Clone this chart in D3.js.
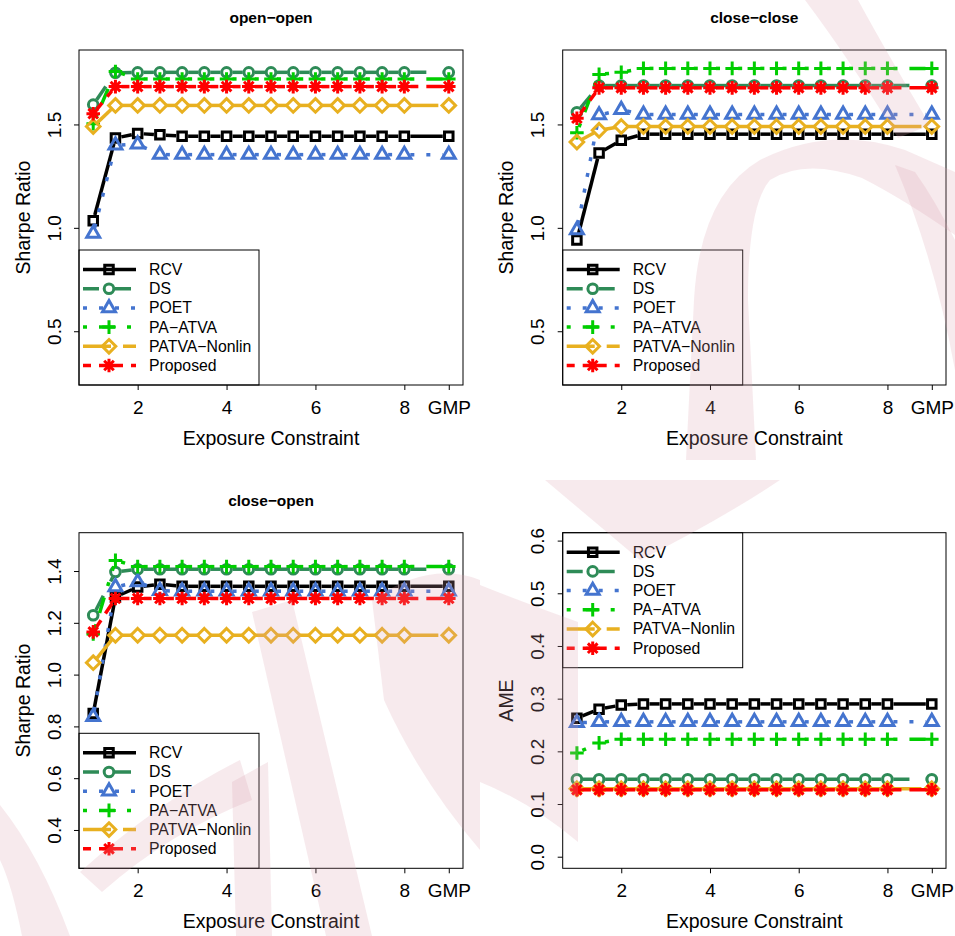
<!DOCTYPE html>
<html>
<head>
<meta charset="utf-8">
<script src="https://cdn.jsdelivr.net/npm/d3@7"></script>
<style>
body { margin: 0; background: #fff; }
svg text { font-family: "Liberation Sans", Arial, Helvetica, sans-serif; fill: #000; }
</style>
</head>
<body>
<svg id="chart" width="955" height="936"></svg>
<script>
"use strict";

// exposure constraint grid, GMP sits at 9 on the axis
const exposure = [1, 1.5, 2, 2.5, 3, 3.5, 4, 4.5, 5, 5.5, 6, 6.5, 7, 7.5, 8, 9];
const xTicks = [2, 4, 6, 8, 9];
const xTickLabels = ["2", "4", "6", "8", "GMP"];
const methods = ["RCV", "DS", "POET", "PA\u2212ATVA", "PATVA\u2212Nonlin", "Proposed"];

// open-open (Sharpe ratio)
const ooRCV   = [1.034, 1.434, 1.456, 1.450, 1.443, 1.443, 1.443, 1.443, 1.443, 1.443, 1.443, 1.443, 1.443, 1.443, 1.443, 1.443];
const ooDS    = [1.596, 1.750, 1.752, 1.752, 1.752, 1.752, 1.752, 1.752, 1.752, 1.752, 1.752, 1.752, 1.752, 1.752, 1.752, 1.752];
const ooPOET  = [0.973, 1.399, 1.404, 1.354, 1.354, 1.354, 1.354, 1.354, 1.354, 1.354, 1.354, 1.354, 1.354, 1.354, 1.354, 1.354];
const ooPA    = [1.503, 1.756, 1.720, 1.720, 1.720, 1.720, 1.720, 1.720, 1.720, 1.720, 1.720, 1.720, 1.720, 1.720, 1.720, 1.720];
const ooPATVA = [1.490, 1.592, 1.592, 1.592, 1.592, 1.592, 1.592, 1.592, 1.592, 1.592, 1.592, 1.592, 1.592, 1.592, 1.592, 1.592];
const ooProp  = [1.552, 1.683, 1.683, 1.683, 1.683, 1.683, 1.683, 1.683, 1.683, 1.683, 1.683, 1.683, 1.683, 1.683, 1.683, 1.683];

// close-close (Sharpe ratio)
const ccRCV   = [0.941, 1.362, 1.423, 1.453, 1.453, 1.453, 1.453, 1.453, 1.453, 1.453, 1.453, 1.453, 1.453, 1.453, 1.453, 1.453];
const ccDS    = [1.559, 1.688, 1.688, 1.688, 1.688, 1.688, 1.688, 1.688, 1.688, 1.688, 1.688, 1.688, 1.688, 1.688, 1.688, 1.688];
const ccPOET  = [0.990, 1.545, 1.571, 1.548, 1.548, 1.548, 1.548, 1.548, 1.548, 1.548, 1.548, 1.548, 1.548, 1.548, 1.548, 1.548];
const ccPA    = [1.460, 1.742, 1.752, 1.771, 1.771, 1.771, 1.771, 1.771, 1.771, 1.771, 1.771, 1.771, 1.771, 1.771, 1.771, 1.771];
const ccPATVA = [1.415, 1.472, 1.490, 1.490, 1.490, 1.490, 1.490, 1.490, 1.490, 1.490, 1.490, 1.490, 1.490, 1.490, 1.490, 1.490];
const ccProp  = [1.530, 1.677, 1.677, 1.677, 1.677, 1.677, 1.677, 1.677, 1.677, 1.677, 1.677, 1.677, 1.677, 1.677, 1.677, 1.677];

// close-open (Sharpe ratio)
const coRCV   = [0.850, 1.300, 1.338, 1.349, 1.341, 1.341, 1.341, 1.341, 1.341, 1.341, 1.341, 1.341, 1.341, 1.341, 1.341, 1.341];
const coDS    = [1.229, 1.396, 1.407, 1.407, 1.407, 1.407, 1.407, 1.407, 1.407, 1.407, 1.407, 1.407, 1.407, 1.407, 1.407, 1.407];
const coPOET  = [0.837, 1.338, 1.358, 1.324, 1.322, 1.322, 1.322, 1.322, 1.322, 1.322, 1.322, 1.322, 1.322, 1.322, 1.322, 1.322];
const coPA    = [1.157, 1.441, 1.417, 1.417, 1.417, 1.417, 1.417, 1.417, 1.417, 1.417, 1.417, 1.417, 1.417, 1.417, 1.417, 1.417];
const coPATVA = [1.046, 1.152, 1.152, 1.152, 1.152, 1.152, 1.152, 1.152, 1.152, 1.152, 1.152, 1.152, 1.152, 1.152, 1.152, 1.152];
const coProp  = [1.165, 1.294, 1.294, 1.294, 1.294, 1.294, 1.294, 1.294, 1.294, 1.294, 1.294, 1.294, 1.294, 1.294, 1.294, 1.294];

// AME
const amRCV   = [0.263, 0.280, 0.288, 0.290, 0.290, 0.290, 0.290, 0.290, 0.290, 0.290, 0.290, 0.290, 0.290, 0.290, 0.290, 0.290];
const amDS    = [0.147, 0.147, 0.147, 0.147, 0.147, 0.147, 0.147, 0.147, 0.147, 0.147, 0.147, 0.147, 0.147, 0.147, 0.147, 0.147];
const amPOET  = [0.254, 0.256, 0.256, 0.256, 0.256, 0.256, 0.256, 0.256, 0.256, 0.256, 0.256, 0.256, 0.256, 0.256, 0.256, 0.256];
const amPA    = [0.197, 0.216, 0.223, 0.223, 0.223, 0.223, 0.223, 0.223, 0.223, 0.223, 0.223, 0.223, 0.223, 0.223, 0.223, 0.223];
const amPATVA = [0.129, 0.129, 0.129, 0.129, 0.129, 0.129, 0.129, 0.129, 0.129, 0.129, 0.129, 0.129, 0.129, 0.129, 0.129, 0.129];
const amProp  = [0.127, 0.127, 0.127, 0.127, 0.127, 0.127, 0.127, 0.127, 0.127, 0.127, 0.127, 0.127, 0.127, 0.127, 0.127, 0.127];

const srTicks1 = [0.5, 1.0, 1.5];
const srTicks3 = [0.4, 0.6, 0.8, 1.0, 1.2, 1.4];
const ameTicks = [0.0, 0.1, 0.2, 0.3, 0.4, 0.5, 0.6];

// R style per method: colour, lty dash (in px), pch
const colors = ["#000000", "#2E8B57", "#4474CF", "#00CD00", "#E8B020", "#FF0000"];
const dashes = [null, "16,16", "4,12", "4,12,16,12", "28,12", "8,8,24,8"];
const shapes = ["square", "circle", "triangle", "plus", "diamond", "asterisk"];

// faint logo watermark sitting over the page (rough outline only)
const watermark = [
    "M686 460 L694 300 Q700 195 760 160 Q830 125 905 150 L955 172 L955 235 Q905 200 862 178 Q805 158 770 180 Q748 205 748 300 L756 460 Z",
    "M895 165 Q935 260 955 370 L955 240 Q935 200 915 172 Z",
    "M805 0 L858 0 Q888 55 930 125 L898 138 Q850 60 805 0 Z",
    "M0 805 Q40 855 70 936 L22 936 Q12 885 0 860 Z",
    "M80 872 Q160 800 240 760 L252 800 Q170 832 102 892 Z",
    "M232 782 L268 762 L272 936 L236 936 Z",
    "M252 612 L292 600 L372 936 L326 936 Z",
    "M372 600 Q430 560 480 580 L480 850 Q420 780 384 700 Z",
    "M480 585 Q530 605 578 622 L578 842 Q530 802 480 782 Z",
    "M545 480 L780 480 Q720 520 640 560 Z"
];

const panels = [
    { title: "open\u2212open", ylab: "Sharpe Ratio", box: [79, 50, 463, 385], ydom: [0.24, 1.86], yticks: srTicks1,
      data: [ooRCV, ooDS, ooPOET, ooPA, ooPATVA, ooProp], legend: "bottomleft" },
    { title: "close\u2212close", ylab: "Sharpe Ratio", box: [562.7, 50, 946, 385], ydom: [0.24, 1.86], yticks: srTicks1,
      data: [ccRCV, ccDS, ccPOET, ccPA, ccPATVA, ccProp], legend: "bottomleft" },
    { title: "close\u2212open", ylab: "Sharpe Ratio", box: [79, 532.7, 463, 868.3], ydom: [0.252, 1.548], yticks: srTicks3,
      data: [coRCV, coDS, coPOET, coPA, coPATVA, coProp], legend: "bottomleft" },
    { title: "", ylab: "AME", box: [562.7, 532.7, 946, 868.3], ydom: [-0.022, 0.615], yticks: ameTicks,
      data: [amRCV, amDS, amPOET, amPA, amPATVA, amProp], legend: "topleft" }
];

const svg = d3.select("#chart");
svg.append("rect").attr("width", 955).attr("height", 936).attr("fill", "#fff");

// marker path like R's pch symbols, s = RADIUS * cex * ps
function markerPath(shape, s) {
    let p = d3.path();
    if (shape == "square") {
        let h = s * 0.886;
        p.rect(-h, -h, 2 * h, 2 * h);
    } else if (shape == "circle") {
        p.arc(0, 0, s, 0, 2 * Math.PI);
    } else if (shape == "triangle") {
        let r = 1.555 * s, yc = 0.7776 * s, xc = 1.3468 * s;
        p.moveTo(0, -r); p.lineTo(xc, yc); p.lineTo(-xc, yc); p.closePath();
    } else if (shape == "plus") {
        let c = Math.SQRT2 * s;
        p.moveTo(-c, 0); p.lineTo(c, 0); p.moveTo(0, -c); p.lineTo(0, c);
    } else if (shape == "diamond") {
        let c = Math.SQRT2 * s;
        p.moveTo(0, -c); p.lineTo(c, 0); p.lineTo(0, c); p.lineTo(-c, 0); p.closePath();
    } else if (shape == "asterisk") {
        let c = s, d = Math.SQRT2 * s;
        p.moveTo(-c, -c); p.lineTo(c, c); p.moveTo(-c, c); p.lineTo(c, -c);
        p.moveTo(-d, 0); p.lineTo(d, 0); p.moveTo(0, -d); p.lineTo(0, d);
    }
    return p.toString();
}

const GAP = 6;      // type = "b" gap around points
const LWD = 3.5;
const MSIZE = 4.8;

panels.forEach(function (pn) {
    let [x0, y0, x1, y1] = pn.box;
    let x = d3.scaleLinear().domain([0.68, 9.32]).range([x0, x1]);
    let y = d3.scaleLinear().domain(pn.ydom).range([y1, y0]);
    let g = svg.append("g");

    // axes
    let xAxis = d3.axisBottom(x).tickValues(xTicks)
        .tickFormat(function (d, i) { return xTickLabels[i]; })
        .tickSize(5).tickSizeOuter(0);
    let gx = g.append("g").attr("transform", "translate(0," + y1 + ")").call(xAxis);
    gx.select(".domain").remove();
    gx.selectAll("line").attr("stroke", "#000").attr("stroke-width", 1);
    gx.selectAll("text").attr("y", 28.5).attr("dy", null)
        .style("font-size", "19px").style("font-family", null);

    let yAxis = d3.axisLeft(y).tickValues(pn.yticks).tickFormat(d3.format(".1f"))
        .tickSize(5).tickSizeOuter(0);
    let gy = g.append("g").attr("transform", "translate(" + x0 + ",0)").call(yAxis);
    gy.select(".domain").remove();
    gy.selectAll("line").attr("stroke", "#000").attr("stroke-width", 1);
    gy.selectAll("text").attr("x", null).attr("dy", null)
        .attr("transform", "translate(-18.5,0) rotate(-90)")
        .attr("text-anchor", "middle")
        .style("font-size", "19px").style("font-family", null);
    g.selectAll(".tick text").attr("fill", "#000");

    // titles
    g.append("text").attr("x", (x0 + x1) / 2).attr("y", y1 + 60)
        .attr("text-anchor", "middle").style("font-size", "19.5px").text("Exposure Constraint");
    g.append("text").attr("transform", "translate(" + (x0 - 49.5) + "," + ((y0 + y1) / 2) + ") rotate(-90)")
        .attr("text-anchor", "middle").style("font-size", "19.5px").text(pn.ylab);
    if (pn.title) {
        g.append("text").attr("x", (x0 + x1) / 2).attr("y", y0 - 27)
            .attr("text-anchor", "middle").style("font-size", "15.5px").style("font-weight", "bold")
            .text(pn.title);
    }

    // series: line segments with gaps (type = "b"), then points
    pn.data.forEach(function (vals, k) {
        let pts = vals.map(function (v, i) { return [x(exposure[i]), y(v)]; });
        let segs = [];
        for (let i = 0; i < pts.length - 1; i++) {
            let dx = pts[i + 1][0] - pts[i][0], dy = pts[i + 1][1] - pts[i][1];
            let L = Math.sqrt(dx * dx + dy * dy);
            if (L > 2 * GAP) {
                let ux = dx / L, uy = dy / L;
                segs.push([pts[i][0] + ux * GAP, pts[i][1] + uy * GAP,
                           pts[i + 1][0] - ux * GAP, pts[i + 1][1] - uy * GAP]);
            }
        }
        g.append("g").selectAll("line").data(segs).enter().append("line")
            .attr("x1", function (d) { return d[0]; }).attr("y1", function (d) { return d[1]; })
            .attr("x2", function (d) { return d[2]; }).attr("y2", function (d) { return d[3]; })
            .attr("stroke", colors[k]).attr("stroke-width", LWD)
            .attr("stroke-dasharray", dashes[k]);
        g.append("g").selectAll("path").data(pts).enter().append("path")
            .attr("transform", function (d) { return "translate(" + d[0] + "," + d[1] + ")"; })
            .attr("d", markerPath(shapes[k], MSIZE))
            .attr("fill", "none").attr("stroke", colors[k]).attr("stroke-width", 3);
    });

    // legend
    let lw = 180, lh = 135;
    let ly = pn.legend == "topleft" ? y0 : y1 - lh;
    let lg = g.append("g").attr("transform", "translate(" + x0 + "," + ly + ")");
    lg.append("rect").attr("width", lw).attr("height", lh)
        .attr("fill", "#fff").attr("stroke", "#000").attr("stroke-width", 1);
    methods.forEach(function (m, k) {
        let ry = 19.5 + k * 19.2;
        lg.append("line").attr("x1", 4).attr("x2", 57).attr("y1", ry).attr("y2", ry)
            .attr("stroke", colors[k]).attr("stroke-width", LWD).attr("stroke-dasharray", dashes[k]);
        lg.append("path").attr("transform", "translate(30," + ry + ")")
            .attr("d", markerPath(shapes[k], MSIZE))
            .attr("fill", "none").attr("stroke", colors[k]).attr("stroke-width", 3);
        lg.append("text").attr("x", 70).attr("y", ry + 5.5).style("font-size", "15.8px").text(m);
    });

    // plot box
    g.append("rect").attr("x", x0).attr("y", y0).attr("width", x1 - x0).attr("height", y1 - y0)
        .attr("fill", "none").attr("stroke", "#000").attr("stroke-width", 1);
});

svg.append("g").attr("pointer-events", "none")
    .selectAll("path").data(watermark).enter().append("path")
    .attr("d", function (d) { return d; })
    .attr("fill", "#d9a0ae").attr("fill-opacity", 0.22);
</script>
</body>
</html>
